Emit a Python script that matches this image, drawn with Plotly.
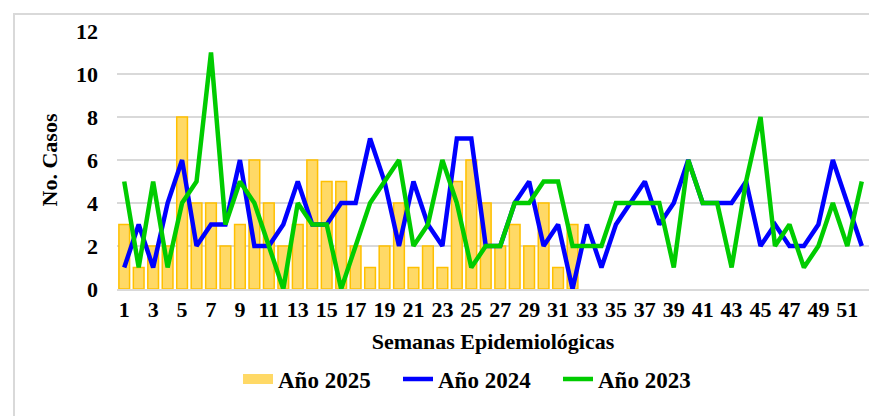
import plotly.graph_objects as go

# Epidemiological weeks 1..52
semanas = [str(i) for i in range(1, 53)]

# Cases per week (2025 only up to week 32)
casos_2025 = [3, 1, 2, 2, 8, 4, 4, 2, 3, 6, 4, 2, 3, 6, 5, 5, 2, 1, 2, 4,
              1, 2, 1, 5, 6, 4, 2, 3, 2, 4, 1, 3]
casos_2024 = [1, 3, 1, 4, 6, 2, 3, 3, 6, 2, 2, 3, 5, 3, 3, 4, 4, 7, 5, 2,
              5, 3, 2, 7, 7, 2, 2, 4, 5, 2, 3, 0, 3, 1, 3, 4, 5, 3, 4, 6,
              4, 4, 4, 5, 2, 3, 2, 2, 3, 6, 4, 2]
casos_2023 = [5, 1, 5, 1, 4, 5, 11, 3, 5, 4, 2, 0, 4, 3, 3, 0, 2, 4, 5, 6,
              2, 3, 6, 4, 1, 2, 2, 4, 4, 5, 5, 2, 2, 2, 4, 4, 4, 4, 1, 6,
              4, 4, 1, 5, 8, 2, 3, 1, 2, 4, 2, 5]

y_ticks = [0, 2, 4, 6, 8, 10, 12]
x_ticks = [str(i) for i in range(1, 53, 2)]

FONT = "Liberation Serif, Times New Roman, serif"
BAR_FILL = "#FFD966"
BAR_EDGE = "#FFC000"

fig = go.Figure()

# bars (legend entry drawn by a wide swatch below)
fig.add_trace(go.Bar(
    x=semanas[:len(casos_2025)], y=casos_2025, name="Año 2025",
    marker=dict(color=BAR_FILL, line=dict(color=BAR_EDGE, width=1.5)),
    showlegend=False, legendgroup="2025",
))
fig.add_trace(go.Scatter(
    x=[None], y=[None], name="Año 2025", mode="lines", legendgroup="2025",
    line=dict(color=BAR_FILL, width=13),
))
fig.add_trace(go.Scatter(
    x=semanas, y=casos_2024, name="Año 2024", mode="lines",
    line=dict(color="#0000FF", width=4.5),
))
fig.add_trace(go.Scatter(
    x=semanas, y=casos_2023, name="Año 2023", mode="lines",
    line=dict(color="#00CC00", width=4.5),
))

# plot area in figure pixels (page has an 8px body margin)
plot_l, plot_r, plot_t, plot_b = 109, 861, 23, 281
pw, ph = plot_r - plot_l, plot_b - plot_t

# light frame around the whole chart (Excel-style chart border)
fig.add_shape(
    type="rect", xref="paper", yref="paper",
    x0=(6 - plot_l) / pw, x1=(890 - plot_l) / pw,
    y0=(plot_b - 430) / ph, y1=(plot_b - 6) / ph,
    line=dict(color="#D9D9D9", width=2), layer="below",
)

fig.update_layout(
    width=877, height=416,
    margin=dict(l=plot_l, r=877 - plot_r, t=plot_t, b=416 - plot_b),
    paper_bgcolor="white", plot_bgcolor="white",
    font=dict(family=FONT, color="black", size=22, weight="bold"),
    bargap=0.26,
    showlegend=True,
    legend=dict(
        orientation="h", x=(230 - plot_l) / pw, xanchor="left",
        y=-(371 - plot_b) / ph, yanchor="middle",
        entrywidth=115, entrywidthmode="pixels",
        font=dict(family=FONT, size=23, weight="bold"),
    ),
    xaxis=dict(
        type="category", categoryorder="array", categoryarray=semanas,
        range=[-0.5, 51.5], tickmode="array", tickvals=x_ticks,
        tickfont=dict(family=FONT, size=22, weight="bold"),
        title=dict(text="Semanas Epidemiológicas", standoff=12,
                   font=dict(family=FONT, size=22, weight="bold")),
        showgrid=False, showline=True, linecolor="#D9D9D9", linewidth=1.5,
        ticks="", tickangle=0,
    ),
    yaxis=dict(
        range=[0, 12], tickvals=y_ticks,
        tickfont=dict(family=FONT, size=22, weight="bold"),
        title=dict(text="No. Casos", standoff=12,
                   font=dict(family=FONT, size=22, weight="bold")),
        showgrid=True, gridcolor="#D9D9D9", gridwidth=1.5,
        zeroline=False, ticklabelstandoff=18,
    ),
)

fig.write_html("out.html")
